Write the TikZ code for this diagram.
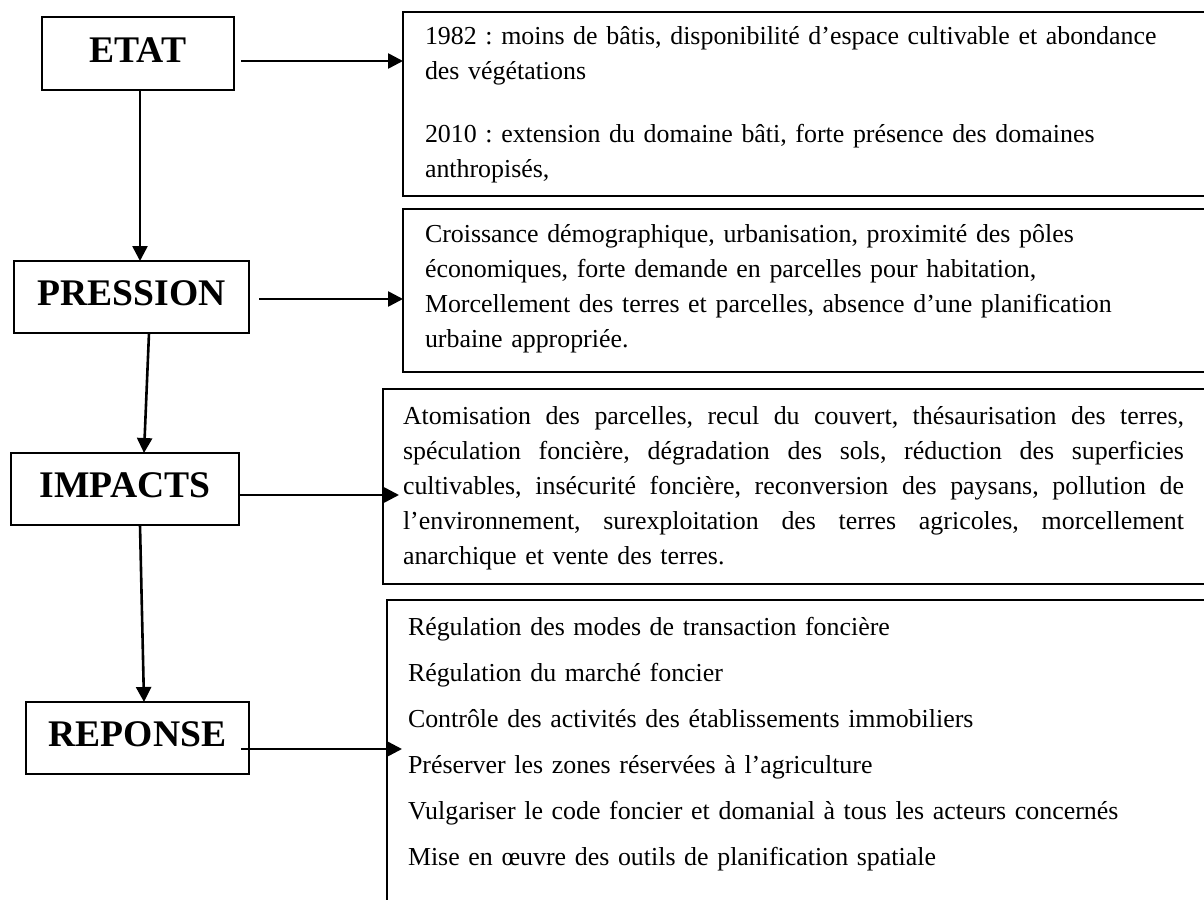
\documentclass[tikz,border=0pt]{standalone}
\usepackage{fontspec}
\setmainfont{Liberation Serif}
\usetikzlibrary{arrows.meta,calc}
\frenchspacing
\newcommand\jline[1]{\leavevmode\hbox to 390.5pt{\spaceskip=0.25em plus 2em minus 0.05em\relax #1}}
\begin{document}
\begin{tikzpicture}[x=0.5pt,y=-0.5pt,
  lbox/.style={draw, line width=1pt, inner sep=0pt, outer sep=0pt, text depth=3.5pt,
    font=\bfseries\fontsize{18.8pt}{20pt}\selectfont},
  rbox/.style={draw, line width=1pt, inner sep=0pt, outer sep=0pt, anchor=north west},
  txt/.style={anchor=base west, inner sep=0pt, outer sep=0pt, align=left,
    font=\frenchspacing\fontsize{12.95pt}{17.5pt}\selectfont},
  arr/.style={line width=1.3pt, -{Triangle[length=7.5pt,width=7.5pt]}}]
\useasboundingbox (0,0) rectangle (1204,899);
\clip (0,0) rectangle (1204,899);

% left boxes
\node[lbox, minimum width=96pt, minimum height=36.5pt] (etat) at (138,53.5) {ETAT};
\node[lbox, minimum width=117.5pt, minimum height=36pt] (pression) at (131.5,297) {PRESSION};
\node[lbox, minimum width=114pt, minimum height=36pt] (impacts) at (125,489) {IMPACTS};
\node[lbox, minimum width=111.5pt, minimum height=36pt] (reponse) at (137.5,738) {REPONSE};

% right boxes
\node[rbox, minimum width=404.5pt, minimum height=92pt] (b1) at (403,12) {};
\node[rbox, minimum width=404.5pt, minimum height=81.5pt] (b2) at (403,209) {};
\node[rbox, minimum width=414.5pt, minimum height=97.5pt] (b3) at (383,389) {};
\node[rbox, minimum width=412.5pt, minimum height=165pt] (b4) at (387,600) {};

% texts
\node[txt, text width=395pt] (t1) at (425,45) {1982 : moins de bâtis, disponibilité d’espace cultivable et abondance\\
des végétations\\[14pt]
2010 : extension du domaine bâti, forte présence des domaines\\
anthropisés,};

\node[txt, text width=395pt] (t2) at (425,242) {Croissance démographique, urbanisation, proximité des pôles\\
économiques, forte demande en parcelles pour habitation,\\
Morcellement des terres et parcelles, absence d’une planification\\
urbaine appropriée.};

\node[txt, text width=390.5pt] (t3) at (403,424) {\jline{Atomisation des parcelles, recul du couvert, thésaurisation des terres,}\\
\jline{spéculation foncière, dégradation des sols, réduction des superficies}\\
\jline{cultivables, insécurité foncière, reconversion des paysans, pollution de}\\
\jline{l’environnement, surexploitation des terres agricoles, morcellement}\\
anarchique et vente des terres.};

\node[txt, text width=400pt, font=\frenchspacing\fontsize{12.95pt}{23pt}\selectfont] (t4) at (408,635) {Régulation des modes de transaction foncière\\
Régulation du marché foncier\\
Contrôle des activités des établissements immobiliers\\
Préserver les zones réservées à l’agriculture\\
Vulgariser le code foncier et domanial à tous les acteurs concernés\\
Mise en œuvre des outils de planification spatiale};

% horizontal connectors
\coordinate (s1) at ([shift={(7,7.5)}]etat.east);
\draw[arr] (s1) -- (s1 -| b1.west);
\coordinate (s2) at ([shift={(10,2)}]pression.east);
\draw[arr] (s2) -- (s2 -| b2.west);
\coordinate (s3) at ([shift={(0,6)}]impacts.east);
\draw[arr] (s3) -- ([xshift=8pt]s3 -| b3.west);
\coordinate (s4) at ([shift={(-8,11)}]reponse.east);
\draw[arr] (s4) -- ([xshift=7.5pt]s4 -| b4.west);

% vertical connectors
\coordinate (v1) at ([xshift=1pt]etat.south);
\draw[arr] (v1) -- (v1 |- pression.north);
\draw[arr] ([xshift=8.75pt]pression.south) -- ([xshift=9.5pt]impacts.north);
\draw[arr] ([xshift=7.5pt]impacts.south) -- ([xshift=3.25pt]reponse.north);
\end{tikzpicture}
\end{document}
